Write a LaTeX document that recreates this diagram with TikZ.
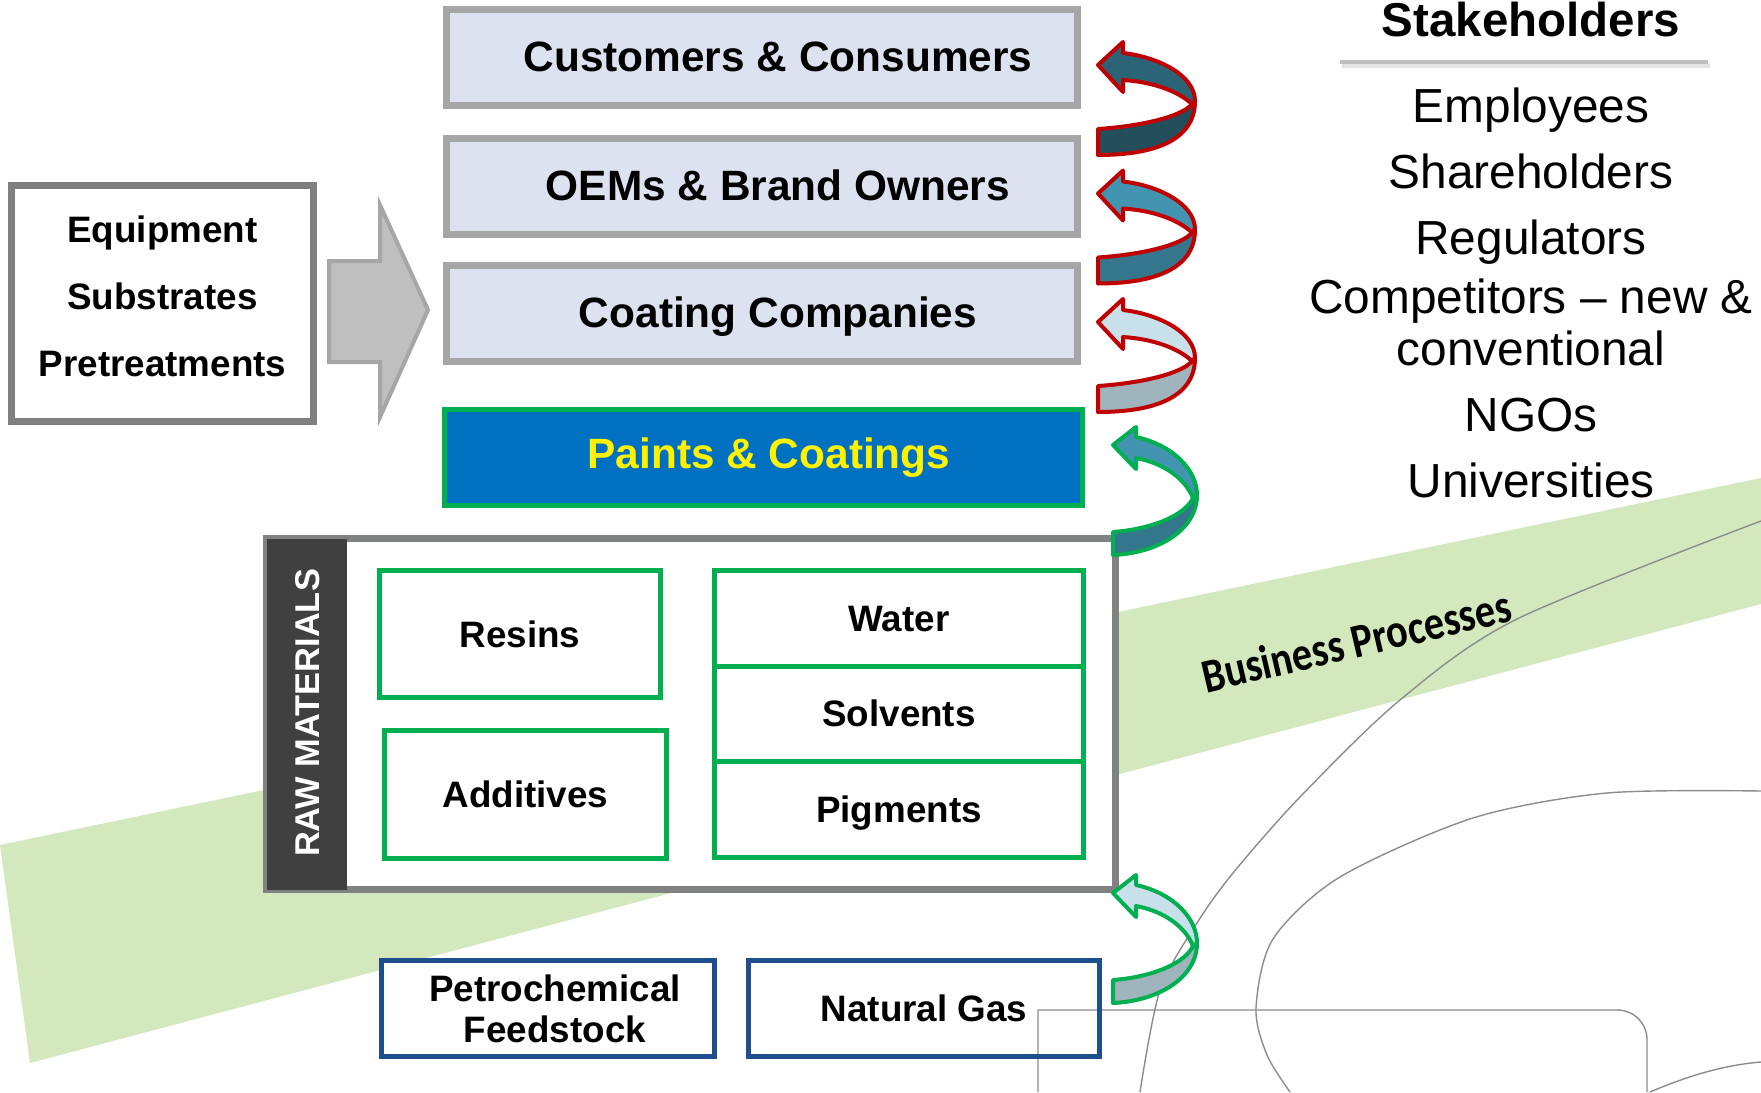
\documentclass[tikz,border=0pt]{standalone}
\usepackage{fontspec}
\usepackage{graphicx}
\setmainfont{Liberation Sans}
\newfontfamily\calfont{Carlito}
\definecolor{bandgreen}{RGB}{211,232,188}
\definecolor{boxgray}{RGB}{166,166,166}
\definecolor{boxfill}{RGB}{220,226,240}
\definecolor{paintblue}{RGB}{0,112,192}
\definecolor{boxgreen}{RGB}{0,176,80}
\definecolor{feedblue}{RGB}{31,78,140}
\definecolor{eqgray}{RGB}{128,128,128}
\definecolor{rawgray}{RGB}{128,130,130}
\definecolor{sidedark}{RGB}{64,64,64}
\definecolor{blockfill}{RGB}{191,191,191}
\definecolor{blockline}{RGB}{166,166,166}
\definecolor{turnred}{RGB}{192,0,0}
\definecolor{curvegray}{RGB}{140,140,140}
\definecolor{ulgray}{RGB}{191,191,191}
\definecolor{ulshadow}{RGB}{228,228,228}
\definecolor{darkup}{RGB}{43,100,118}
\definecolor{darklow}{RGB}{35,78,92}
\definecolor{midup}{RGB}{67,148,176}
\definecolor{midlow}{RGB}{52,118,140}
\definecolor{lightup}{RGB}{200,224,234}
\definecolor{lightlow}{RGB}{160,180,190}
\newcommand\redturn[5]{%
 \begin{scope}[shift={(#1,#2)}]
  \filldraw[turnline, draw=#5, fill=#4] (97,36) .. controls (97,76) and (55,90) .. (0,90) -- (0,64) .. controls (45,61) and (85,51) .. (94,39) -- cycle;
  \filldraw[turnline, draw=#5, fill=#3] (0,0) -- (25,-23) -- (25,-12) .. controls (60,-8) and (97,10) .. (97,36) -- (94,39) .. controls (80,26) and (55,17) .. (25,15) -- (25,27) -- cycle;
 \end{scope}}
\newcommand\greenturn[5]{%
 \begin{scope}[shift={(#1,#2)}]
  \filldraw[turnline, draw=#5, fill=#4] (84,50) .. controls (84,85) and (45,108) .. (0,110) -- (0,87) .. controls (40,84) and (72,70) .. (80,53) -- cycle;
  \filldraw[turnline, draw=#5, fill=#3] (0,0) -- (23,-18) -- (23,-8) .. controls (60,0) and (84,25) .. (84,50) -- (80,53) .. controls (72,33) and (50,18) .. (23,13) -- (23,24) -- cycle;
 \end{scope}}
\begin{document}
\begin{tikzpicture}[x=0.5pt,y=-0.5pt,
  every node/.style={inner sep=0pt, outer sep=0pt},
  turnline/.style={line width=2pt, line join=round},
  topbox/.style={draw=boxgray, line width=3.5pt, fill=boxfill, minimum width=315.5pt, minimum height=48pt,
    font=\fontsize{21.2pt}{25pt}\selectfont\bfseries, text height=14pt, text depth=0pt},
  paintbox/.style={draw=boxgreen, line width=2.5pt, fill=paintblue, text=yellow, minimum width=319pt, minimum height=48pt,
    font=\fontsize{21.2pt}{25pt}\selectfont\bfseries, text height=15pt, text depth=4pt},
  eqbox/.style={draw=eqgray, line width=3.5pt, fill=white, minimum width=151pt, minimum height=118pt},
  eqtext/.style={align=center, font=\fontsize{18.4pt}{33.5pt}\selectfont\bfseries},
  rawbox/.style={draw=rawgray, line width=3.5pt, fill=white, minimum width=424.5pt, minimum height=175.5pt},
  sidebar/.style={fill=sidedark, minimum width=40.25pt, minimum height=175.5pt},
  rawlabel/.style={text=white, font=\fontsize{17.2pt}{21pt}\selectfont\bfseries},
  item/.style={draw=boxgreen, line width=2.5pt, fill=white, font=\fontsize{18.4pt}{22pt}\selectfont\bfseries,
    text height=13.2pt, text depth=0pt},
  feed/.style={draw=feedblue, line width=2.5pt, minimum height=48pt, font=\fontsize{18.4pt}{20.5pt}\selectfont\bfseries},
  stk/.style={anchor=base, font=\fontsize{23.9pt}{28pt}\selectfont},
  curve/.style={draw=curvegray, line width=0.7pt}
]
\useasboundingbox (0,0) rectangle (1761,1092);
% background band and thin curves
\begin{scope}
 \clip (0,0) rectangle (1761,1092);
 \fill[bandgreen] (0,845) -- (1761,478) -- (1761,604) -- (30,1063) -- cycle;
 \draw[curve] plot[smooth] coordinates {(1761,521) (1517,619) (1400,700) (1300,797) (1233,873) (1197,923) (1160,990) (1140,1092)};
 \draw[curve] plot[smooth] coordinates {(1761,791) (1607,793) (1473,818) (1340,877) (1273,939) (1256,1008) (1267,1055) (1290,1092)};
 \draw[curve] (1038,1092) -- (1038,1010) -- (1617,1010) .. controls (1634,1010) and (1647,1023) .. (1647,1040) -- (1647,1092);
 \draw[curve] (1650,1092) .. controls (1690,1075) and (1725,1065) .. (1761,1062);
\end{scope}
\node[font=\calfont\bfseries\fontsize{24pt}{28pt}\selectfont, rotate=13.2, anchor=base] (bp) at (1360,657) {\scalebox{0.84}[1]{Business Processes}};

% value chain boxes
\node[topbox] (cust) at (762,57.5) {\hspace*{16pt}Customers \& Consumers};
\node[topbox] (oem) at (762,186) {\hspace*{16pt}OEMs \& Brand Owners};
\node[topbox] (coat) at (762,313.5) {\hspace*{16pt}Coating Companies};
\node[paintbox] (paint) at (763.5,457.5) {\hspace*{5.5pt}Paints \& Coatings};

% equipment box and block arrow
\node[eqbox] (equip) at (162.5,303.5) {};
\node[eqtext] (equiptext) at (162.5,296.5) {Equipment\\Substrates\\Pretreatments};
\filldraw[fill=blockfill, draw=blockline, line width=2pt, line join=miter]
  (329,261) -- (380,261) -- (380,205) -- (428,310) -- (380,417) -- (380,362) -- (329,362) -- cycle;

% raw materials
\node[rawbox] (raw) at (691,714) {};
\node[sidebar, anchor=north west] (side) at (266.5,538.5) {};
\node[rawlabel, rotate=90] (rawlbl) at (307.5,713) {RAW MATERIALS};
\node[item, minimum width=140.5pt, minimum height=63.5pt] (resins) at (520,634) {Resins};
\node[item, minimum width=141pt, minimum height=64pt] (additives) at (525.5,794.5) {Additives};
\node[item, minimum width=184.5pt, minimum height=47.75pt] (water) at (899,618.25) {Water};
\node[item, minimum width=184.5pt, minimum height=47.5pt] (solvents) at (899,713.5) {Solvents};
\node[item, minimum width=184.5pt, minimum height=48.25pt] (pigments) at (899,809.25) {Pigments};

% feedstocks
\node[feed, fill=white, minimum width=166.5pt, align=center] (petro) at (548,1008.5) {\hspace*{7pt}Petrochemical\\\hspace*{7pt}Feedstock};
\node[feed, minimum width=175.5pt, text height=13.2pt, text depth=0pt] (gas) at (924,1008.5) {Natural Gas};

% twisted arrows
\redturn{1098}{65}{darkup}{darklow}{turnred}
\redturn{1098}{193.5}{midup}{midlow}{turnred}
\redturn{1098}{322}{lightup}{lightlow}{turnred}
\greenturn{1113}{445}{midup}{midlow}{boxgreen}
\greenturn{1113}{893}{lightup}{lightlow}{boxgreen}

% stakeholders
\node[anchor=base, font=\fontsize{23.75pt}{28pt}\selectfont\bfseries] (stkh) at (1531,36) {Stakeholders};
\coordinate (ulA) at (1340,62);
\coordinate (ulB) at (1708,62);
\draw[ulshadow, line width=2pt] ([shift={(2,4)}]ulA) -- ([shift={(2,4)}]ulB);
\draw[ulgray, line width=2pt] (ulA) -- (ulB);
\node[stk] (s1) at (1531,122) {Employees};
\node[stk] (s2) at (1531,188) {Shareholders};
\node[stk] (s3) at (1531,254) {Regulators};
\node[stk] (s4) at (1531,313) {Competitors -- new \&};
\node[stk] (s5) at (1531,365) {conventional};
\node[stk] (s6) at (1531,431) {NGOs};
\node[stk] (s7) at (1531,497) {Universities};
\end{tikzpicture}
\end{document}
